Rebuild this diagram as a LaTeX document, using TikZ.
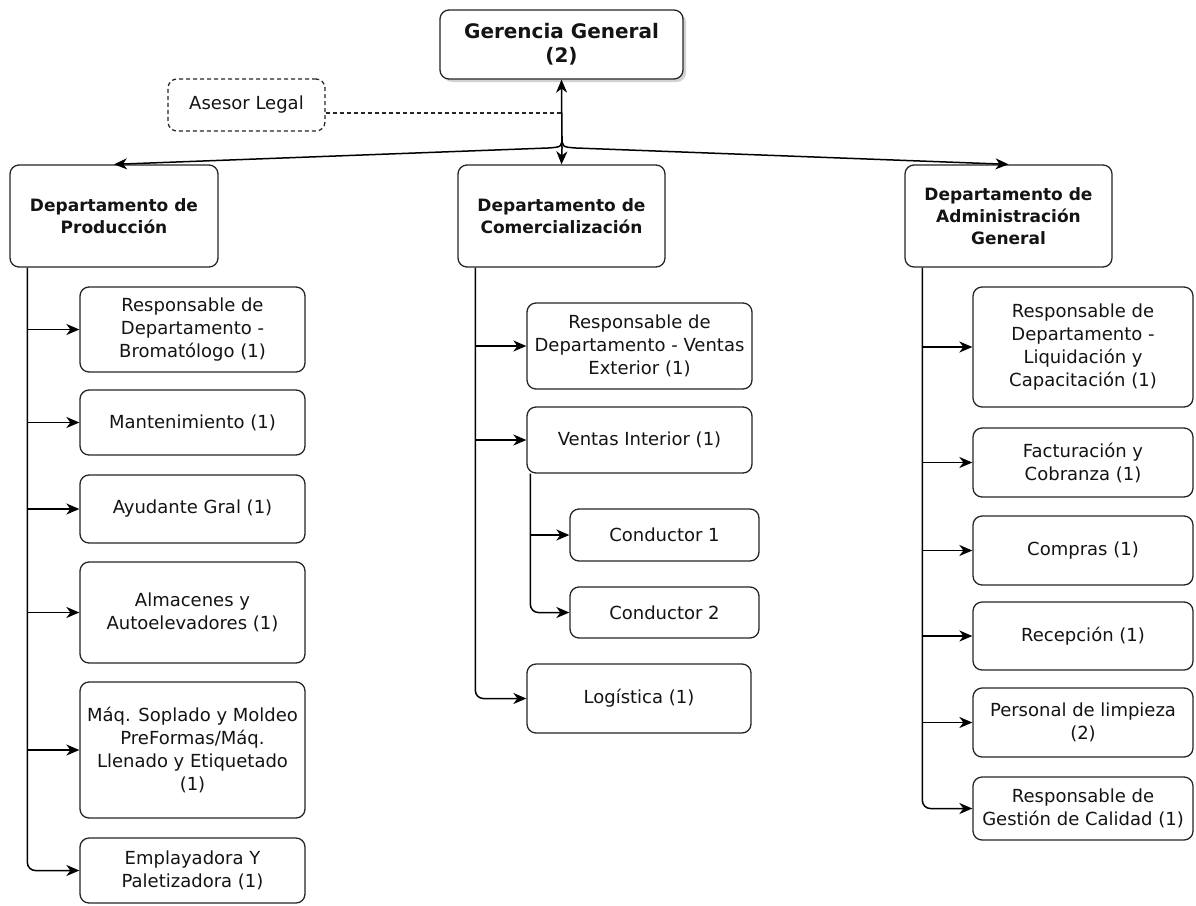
\documentclass[tikz,border=0pt]{standalone}
\usepackage{fontspec}
\setmainfont{DejaVu Sans}
\usetikzlibrary{arrows.meta,shadows}
\begin{document}
\begin{tikzpicture}[x=1pt,y=-1pt,
  box/.style={draw=black!85, line width=1.3pt, rounded corners=9pt, fill=white,
    align=center, inner sep=2pt, text=black!92, font=\fontsize{18}{23}\selectfont},
  dept/.style={box, font=\fontsize{17}{22}\selectfont\bfseries},
  arr/.style={draw=black, line width=1.5pt, -{Stealth[length=13pt,width=11pt,inset=4pt]}},
  dashline/.style={draw=black!85, line width=1.3pt, dash pattern=on 4pt off 3pt}
]
\useasboundingbox[fill=white] (0,0) rectangle (1196,905);

% top level
\node[box, font=\fontsize{20}{24}\selectfont\bfseries, minimum width=243pt, minimum height=69pt,
  drop shadow={opacity=0.35, shadow xshift=3pt, shadow yshift=-3pt}] (ger) at (561.5,44.5) {Gerencia General\\(2)};
\node[box, dashline, minimum width=157pt, minimum height=52pt] (ase) at (246.5,105) {Asesor Legal};

% departments
\node[dept, minimum width=208pt, minimum height=102pt] (prod) at (114,216) {Departamento de\\Producción};
\node[dept, minimum width=207pt, minimum height=102pt] (com) at (561.5,216) {Departamento de\\Comercialización};
\node[dept, minimum width=207pt, minimum height=102pt] (adm) at (1008.5,216) {Departamento de\\Administración\\General};

% produccion children
\node[box, minimum width=225pt, minimum height=85pt] (p1) at (192.5,329.5) {Responsable de\\Departamento -\\Bromatólogo (1)};
\node[box, minimum width=225pt, minimum height=65pt] (p2) at (192.5,422.5) {Mantenimiento (1)};
\node[box, minimum width=225pt, minimum height=68pt] (p3) at (192.5,509) {Ayudante Gral (1)};
\node[box, minimum width=225pt, minimum height=101pt] (p4) at (192.5,612.5) {Almacenes y\\Autoelevadores (1)};
\node[box, minimum width=225pt, minimum height=136pt] (p5) at (192.5,750) {Máq. Soplado y Moldeo\\PreFormas/Máq.\\Llenado y Etiquetado\\(1)};
\node[box, minimum width=225pt, minimum height=65pt] (p6) at (192.5,870.5) {Emplayadora Y\\Paletizadora (1)};

% comercializacion children
\node[box, minimum width=225pt, minimum height=86pt] (c1) at (639.5,346) {Responsable de\\Departamento - Ventas\\Exterior (1)};
\node[box, minimum width=225pt, minimum height=66pt] (c2) at (639.5,440) {Ventas Interior (1)};
\node[box, minimum width=189pt, minimum height=52pt] (c3) at (664.5,535) {Conductor 1};
\node[box, minimum width=189pt, minimum height=51pt] (c4) at (664.5,612.5) {Conductor 2};
\node[box, minimum width=224pt, minimum height=69pt] (c5) at (639,698.5) {Logística (1)};

% administracion children
\node[box, minimum width=220pt, minimum height=120pt] (a1) at (1083,347) {Responsable de\\Departamento -\\Liquidación y\\Capacitación (1)};
\node[box, minimum width=220pt, minimum height=69pt] (a2) at (1083,462.5) {Facturación y\\Cobranza (1)};
\node[box, minimum width=220pt, minimum height=69pt] (a3) at (1083,550.5) {Compras (1)};
\node[box, minimum width=220pt, minimum height=68pt] (a4) at (1083,636) {Recepción (1)};
\node[box, minimum width=220pt, minimum height=69pt] (a5) at (1083,722.5) {Personal de limpieza\\(2)};
\node[box, minimum width=220pt, minimum height=63pt] (a6) at (1083,808.5) {Responsable de\\Gestión de Calidad (1)};

% top connectors
\coordinate (j) at (562,148);
\coordinate (jt) at (562,136);
\draw[arr] (j) -- (ger.south);
\draw[arr] (j) -- (com.north);
\draw[arr] (jt) .. controls (562,147) .. (548,148) -- (prod.north);
\draw[arr] (jt) .. controls (562,147) .. (576,148) -- (adm.north);
\coordinate (ae) at ([yshift=-8pt]ase.east);
\draw[dashline] (ae) -- (ae -| ger.south);

% spines
\coordinate (ps) at ([xshift=18pt]prod.south west);
\foreach \n in {p1,p2,p3,p4,p5} \draw[arr] (ps |- \n.west) -- (\n.west);
\draw[arr, rounded corners=8pt] (ps) |- (p6.west);

\coordinate (cs) at ([xshift=18pt]com.south west);
\foreach \n in {c1,c2} \draw[arr] (cs |- \n.west) -- (\n.west);
\draw[arr, rounded corners=8pt] (cs) |- (c5.west);

\coordinate (vs) at ([xshift=4pt]c2.south west);
\draw[arr] (vs |- c3.west) -- (c3.west);
\draw[arr, rounded corners=8pt] (vs) |- (c4.west);

\coordinate (as) at ([xshift=18pt]adm.south west);
\foreach \n in {a1,a2,a3,a4,a5} \draw[arr] (as |- \n.west) -- (\n.west);
\draw[arr, rounded corners=8pt] (as) |- (a6.west);
\end{tikzpicture}
\end{document}
